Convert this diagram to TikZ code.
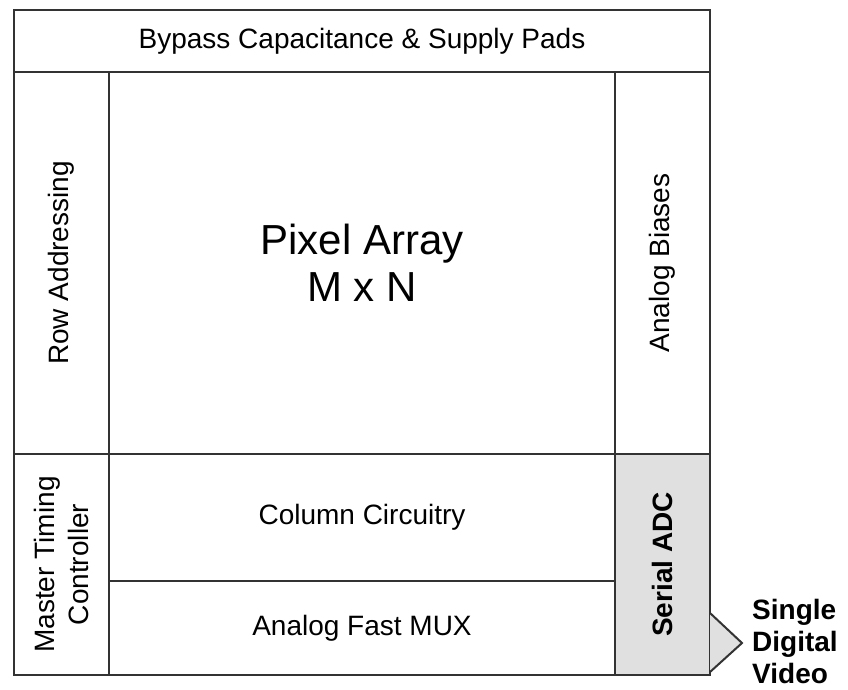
\documentclass[tikz,border=0pt]{standalone}
\usepackage{fontspec}
\setmainfont{Liberation Sans}
\definecolor{linec}{HTML}{333333}
\definecolor{adcfill}{HTML}{E0E0E0}
\begin{document}
\begin{tikzpicture}[x=1pt,y=-1pt,
  blk/.style={draw=linec, line width=2pt, rectangle, inner sep=0pt, outer sep=0pt, align=center, font=\fontsize{28}{32}\selectfont},
  big/.style={font=\fontsize{42}{47}\selectfont},
  shaded/.style={fill=adcfill},
  outtext/.style={anchor=west, align=left, inner sep=0pt, font=\fontsize{28}{32}\selectfont\bfseries}]
\useasboundingbox (0,0) rectangle (848,689);
\node[blk, minimum width=696pt, minimum height=62pt] (top) at (362,41) {Bypass Capacitance \& Supply Pads};
\node[blk, minimum width=382pt, minimum height=95pt, rotate=90] (row) at (61.5,263) {Row Addressing};
\node[blk, big, minimum width=506pt, minimum height=382pt] (pix) at (362,263) {Pixel Array\\M x N};
\node[blk, minimum width=382pt, minimum height=95pt, rotate=90] (bias) at (662.5,263) {Analog Biases};
\node[blk, minimum width=221pt, minimum height=95pt, rotate=90, font=\fontsize{28}{34}\selectfont] (mtc) at (61.5,564.5) {Master Timing\\Controller};
\node[blk, minimum width=506pt, minimum height=127pt] (col) at (362,517.5) {Column Circuitry};
\node[blk, minimum width=506pt, minimum height=94pt] (mux) at (362,628) {Analog Fast MUX};
\node[blk, shaded, minimum width=221pt, minimum height=95pt, rotate=90, font=\fontsize{28}{32}\selectfont\bfseries] (adc) at (662.5,564.5) {Serial ADC};
\coordinate (tip) at (742,643);
\draw[draw=linec, fill=adcfill, line width=2pt, line join=miter] ([shift={(47.5,48.5)}]adc.center) -- (tip) -- ([shift={(47.5,107.5)}]adc.center);
\node[outtext] (out) at (752,641) {Single\\Digital\\Video};
\end{tikzpicture}
\end{document}
